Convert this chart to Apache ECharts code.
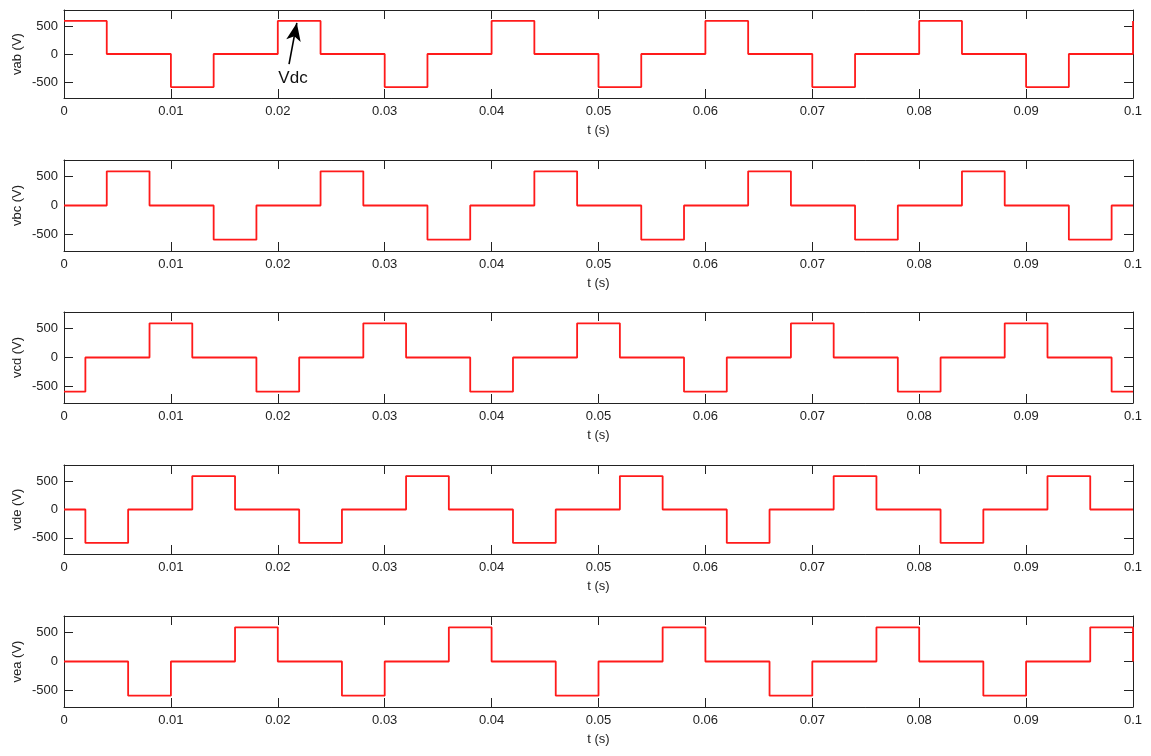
<!DOCTYPE html>
<html>
<head>
<meta charset="utf-8">
<script src="https://cdn.jsdelivr.net/npm/echarts@6/dist/echarts.min.js"></script>
<style>
  html, body { margin: 0; padding: 0; background: #fff; }
  #chart { width: 1151px; height: 756px; }
</style>
</head>
<body>
<div id="chart"></div>
<script>
// Line-to-line voltages of a five-phase inverter, six-step operation.
// Each waveform is given by its switching instants and the level held after each one.
const vabT = [0, 0.004, 0.01, 0.014, 0.02, 0.024, 0.03, 0.034, 0.04, 0.044, 0.05, 0.054, 0.06, 0.064, 0.07, 0.074, 0.08, 0.084, 0.09, 0.094, 0.1];
const vabV = [590, 0, -590, 0, 590, 0, -590, 0, 590, 0, -590, 0, 590, 0, -590, 0, 590, 0, -590, 0, 590];

const vbcT = [0, 0.004, 0.008, 0.014, 0.018, 0.024, 0.028, 0.034, 0.038, 0.044, 0.048, 0.054, 0.058, 0.064, 0.068, 0.074, 0.078, 0.084, 0.088, 0.094, 0.098, 0.1];
const vbcV = [0, 590, 0, -590, 0, 590, 0, -590, 0, 590, 0, -590, 0, 590, 0, -590, 0, 590, 0, -590, 0, 0];

const vcdT = [0, 0.002, 0.008, 0.012, 0.018, 0.022, 0.028, 0.032, 0.038, 0.042, 0.048, 0.052, 0.058, 0.062, 0.068, 0.072, 0.078, 0.082, 0.088, 0.092, 0.098, 0.1];
const vcdV = [-590, 0, 590, 0, -590, 0, 590, 0, -590, 0, 590, 0, -590, 0, 590, 0, -590, 0, 590, 0, -590, -590];

const vdeT = [0, 0.002, 0.006, 0.012, 0.016, 0.022, 0.026, 0.032, 0.036, 0.042, 0.046, 0.052, 0.056, 0.062, 0.066, 0.072, 0.076, 0.082, 0.086, 0.092, 0.096, 0.1];
const vdeV = [0, -590, 0, 590, 0, -590, 0, 590, 0, -590, 0, 590, 0, -590, 0, 590, 0, -590, 0, 590, 0, 0];

const veaT = [0, 0.006, 0.01, 0.016, 0.02, 0.026, 0.03, 0.036, 0.04, 0.046, 0.05, 0.056, 0.06, 0.066, 0.07, 0.076, 0.08, 0.086, 0.09, 0.096, 0.1];
const veaV = [0, -590, 0, 590, 0, -590, 0, 590, 0, -590, 0, 590, 0, -590, 0, 590, 0, -590, 0, 590, 0];

const panelNames = ['vab (V)', 'vbc (V)', 'vcd (V)', 'vde (V)', 'vea (V)'];
const panelTimes = [vabT, vbcT, vcdT, vdeT, veaT];
const panelLevels = [vabV, vbcV, vcdV, vdeV, veaV];

const xTicks = [0, 0.01, 0.02, 0.03, 0.04, 0.05, 0.06, 0.07, 0.08, 0.09, 0.1];
const yTicks = [-500, 0, 500];
const xLabel = 't (s)';

// Annotation on the first panel: arrow pointing at the DC level
const vdcText = 'Vdc';
const vdcArrowFrom = [0.02105, -180];
const vdcArrowTo = [0.02178, 555];
const vdcTextAt = [0.02142, -440];

const FONT = '"Liberation Sans", Arial, sans-serif';
const TEXT = '#222';
const FRAME = '#222';
const Y_LIM = 785;

const tops = [10, 160, 312, 465, 616];
const heights = [88, 91, 91, 89, 91];

const grid = [], xAxis = [], yAxis = [], series = [];

const fmtX = v => String(+v.toFixed(3));

for (let i = 0; i < 5; i++) {
  grid.push({ left: 64, right: 18, top: tops[i], height: heights[i] });

  const tickCommon = { show: true, inside: true, length: 9, lineStyle: { color: FRAME, width: 1 } };
  // bottom x axis with labels
  xAxis.push({
    type: 'value', gridIndex: i, position: 'bottom', min: 0, max: 0.1, interval: 0.01,
    axisLine: { show: true, onZero: false, lineStyle: { color: FRAME, width: 1 } },
    axisTick: Object.assign({}, tickCommon, { customValues: xTicks }),
    axisLabel: { customValues: xTicks, formatter: fmtX, color: TEXT, fontFamily: FONT, fontSize: 13, margin: 7 },
    splitLine: { show: false },
    name: xLabel, nameLocation: 'middle', nameGap: 26, nameMoveOverlap: false,
    nameTextStyle: { color: TEXT, fontFamily: FONT, fontSize: 13 }
  });
  // top x axis: frame edge with inward ticks
  xAxis.push({
    type: 'value', gridIndex: i, position: 'top', min: 0, max: 0.1, interval: 0.01,
    axisLine: { show: true, onZero: false, lineStyle: { color: FRAME, width: 1 } },
    axisTick: Object.assign({}, tickCommon, { customValues: xTicks }),
    axisLabel: { show: false },
    splitLine: { show: false }
  });
  // left y axis with labels
  yAxis.push({
    type: 'value', gridIndex: i, position: 'left', min: -Y_LIM, max: Y_LIM,
    axisLine: { show: true, onZero: false, lineStyle: { color: FRAME, width: 1 } },
    axisTick: Object.assign({}, tickCommon, { customValues: yTicks }),
    axisLabel: { customValues: yTicks, color: TEXT, fontFamily: FONT, fontSize: 13, margin: 6 },
    splitLine: { show: false },
    name: panelNames[i], nameLocation: 'middle', nameGap: 40, nameRotate: 90, nameMoveOverlap: false,
    nameTextStyle: { color: TEXT, fontFamily: FONT, fontSize: 13 }
  });
  // right y axis: frame edge with inward ticks
  yAxis.push({
    type: 'value', gridIndex: i, position: 'right', min: -Y_LIM, max: Y_LIM,
    axisLine: { show: true, onZero: false, lineStyle: { color: FRAME, width: 1 } },
    axisTick: Object.assign({}, tickCommon, { customValues: yTicks }),
    axisLabel: { show: false },
    splitLine: { show: false }
  });

  const pts = panelTimes[i].map((t, k) => [t, panelLevels[i][k]]);
  const s = {
    type: 'line', name: panelNames[i], xAxisIndex: 2 * i, yAxisIndex: 2 * i,
    data: pts, step: 'end', showSymbol: false, symbol: 'none', animation: false,
    lineStyle: { color: '#ff1a1a', width: 1.8 }, z: 3
  };
  if (i === 0) {
    s.markLine = {
      silent: true, animation: false,
      symbol: ['none', 'arrow'], symbolSize: [11, 18],
      lineStyle: { color: '#000', width: 1.6, type: 'solid' },
      label: { show: false },
      data: [[{ coord: vdcArrowFrom }, { coord: vdcArrowTo }]]
    };
    s.markPoint = {
      silent: true, animation: false, symbol: 'circle', symbolSize: 1,
      itemStyle: { color: 'rgba(0,0,0,0)' },
      label: { show: true, formatter: vdcText, position: 'inside', color: '#111', fontFamily: FONT, fontSize: 17 },
      data: [{ coord: vdcTextAt }]
    };
  }
  series.push(s);
}

const chart = echarts.init(document.getElementById('chart'), null, { renderer: 'canvas' });
chart.setOption({
  backgroundColor: '#fff',
  animation: false,
  grid, xAxis, yAxis, series
});
</script>
</body>
</html>
